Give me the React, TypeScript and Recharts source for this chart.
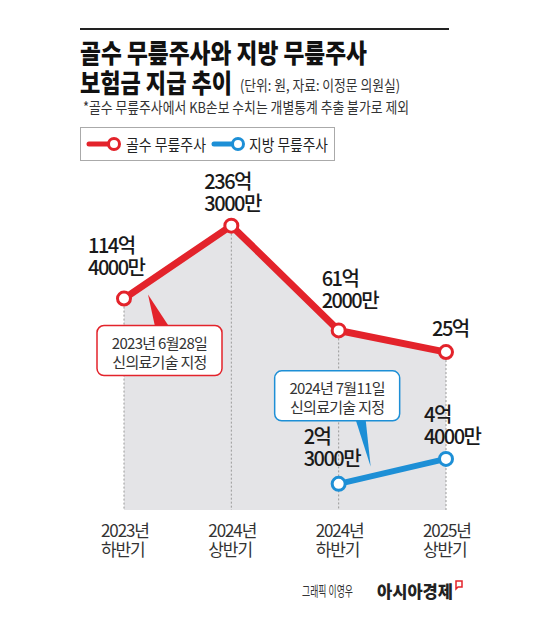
import React from "react";
import {
  ComposedChart, Area, Line, XAxis, YAxis,
  ReferenceLine, ReferenceDot, LabelList,
} from "recharts";

// 기간 (x축)
const PERIODS = ["2023년 하반기", "2024년 상반기", "2024년 하반기", "2025년 상반기"];
// 보험금 (억 원)
const BONE = [114.4, 236.3, 61.2, 25];
const FAT = [null, null, 2.3, 4.4];
const BONE_TEXT = [["114억", "4000만"], ["236억", "3000만"], ["61억", "2000만"], ["25억"]];
const FAT_TEXT = [null, null, ["2억", "3000만"], ["4억", "4000만"]];
const BONE_NOTE = ["2023년 6월28일", "신의료기술 지정"];
const FAT_NOTE = ["2024년 7월11일", "신의료기술 지정"];

const RED = "#e3232b";
const BLUE = "#1d8fd6";
const FONT = '"Noto Sans CJK KR", "Noto Sans", sans-serif';

const BONE_DOMAIN: [number, number] = [-239, 331];
const FAT_DOMAIN: [number, number] = [0.1, 28.8];

// label offsets from the point (dx, dy of first baseline)
const BONE_POS = [[-36, -46], [-27, -37], [-17, -44], [-14, -16]];
const FAT_POS = [null, null, [-35, -40], [-22, -37]];

const data = PERIODS.map((p, i) => ({ period: p, bone: BONE[i], fat: FAT[i] }));

const valueLabel = (values: (number | null)[], texts: any[], pos: any[]) => (p: any) => {
  const i = values.indexOf(p.value);
  const x = p.x ?? p.viewBox?.x;
  const y = p.y ?? p.viewBox?.y;
  if (i < 0 || x == null || !texts[i]) return null;
  const [dx, dy] = pos[i];
  return (
    <text x={x + dx} y={y + dy} fontFamily={FONT} fontSize={20} fontWeight={500}
      letterSpacing={-1.5} fill="#1a1a1a">
      {texts[i].map((t: string, k: number) => (
        <tspan key={k} x={x + dx} dy={k === 0 ? 0 : 22}>{t}</tspan>
      ))}
    </text>
  );
};

const RedNote = (p: any) => {
  const { cx, cy } = p;
  const bx = cx - 27, by = cy + 27;
  return (
    <g>
      <polygon points={`${cx + 24},${cy - 4} ${cx + 31},${by + 1} ${cx + 45},${by + 1}`} fill={RED} />
      <rect x={bx} y={by} width={125} height={50} rx={7} fill="#fff" stroke={RED} strokeWidth={1.5} />
      {BONE_NOTE.map((t, k) => (
        <text key={k} x={bx + 62.5} y={by + 23 + k * 19} textAnchor="middle" fontFamily={FONT}
          fontSize={15} letterSpacing={-0.7} fill="#333">{t}</text>
      ))}
    </g>
  );
};

const BlueNote = (p: any) => {
  const { cx, cy } = p;
  const bx = cx - 64, by = cy - 113;
  return (
    <g>
      <polygon points={`${cx + 17},${by + 49} ${cx + 27},${by + 49} ${cx + 32},${cy - 17}`} fill={BLUE} />
      <rect x={bx} y={by} width={125} height={50} rx={7} fill="#fff" stroke={BLUE} strokeWidth={1.5} />
      {FAT_NOTE.map((t, k) => (
        <text key={k} x={bx + 62.5} y={by + 23 + k * 19} textAnchor="middle" fontFamily={FONT}
          fontSize={15} letterSpacing={-0.7} fill="#333">{t}</text>
      ))}
    </g>
  );
};

const PeriodTick = ({ x, y, payload }: any) => {
  const [a, b] = String(payload.value).split(" ");
  return (
    <g fontFamily={FONT} fontSize={17} letterSpacing={-1.1} fill="#333">
      <text x={x - 23} y={y + 27}>{a}</text>
      <text x={x - 23} y={y + 46}>{b}</text>
    </g>
  );
};

const Overlay = () => (
  <svg width={550} height={621} style={{ position: "absolute", left: 0, top: 0, pointerEvents: "none" }}>
    <line x1={80} x2={449} y1={29} y2={29} stroke="#222" strokeWidth={2} />
    <g fontFamily={FONT}>
      <text x={80} y={63} fontSize={26} fontWeight={900} fill="#111" textLength={287} lengthAdjust="spacingAndGlyphs">
        골수 무릎주사와 지방 무릎주사
      </text>
      <text x={80} y={93} fontSize={26} fontWeight={900} fill="#111" textLength={152} lengthAdjust="spacingAndGlyphs">
        보험금 지급 추이
      </text>
      <text x={240} y={91} fontSize={15} fill="#333" textLength={160} lengthAdjust="spacingAndGlyphs">
        (단위: 원, 자료: 이정문 의원실)
      </text>
      <text x={83} y={113} fontSize={15} fill="#333" textLength={326} lengthAdjust="spacingAndGlyphs">
        *골수 무릎주사에서 KB손보 수치는 개별통계 추출 불가로 제외
      </text>

      <rect x={80.5} y={127.5} width={254} height={33} fill="none" stroke="#aaa" strokeWidth={1} />
      <line x1={89} x2={112} y1={144} y2={144} stroke={RED} strokeWidth={5} strokeLinecap="round" />
      <circle cx={114} cy={144} r={5.5} fill="#fff" stroke={RED} strokeWidth={3} />
      <text x={126} y={151} fontSize={16} fill="#222" textLength={80} lengthAdjust="spacingAndGlyphs">골수 무릎주사</text>
      <line x1={214} x2={235} y1={144} y2={144} stroke={BLUE} strokeWidth={5} strokeLinecap="round" />
      <circle cx={238} cy={144} r={5.5} fill="#fff" stroke={BLUE} strokeWidth={3} />
      <text x={249} y={151} fontSize={16} fill="#222" textLength={79} lengthAdjust="spacingAndGlyphs">지방 무릎주사</text>

      <text x={302} y={596} fontSize={14} fill="#333" textLength={51} lengthAdjust="spacingAndGlyphs">그래픽 이영우</text>
      <text x={377} y={598} fontSize={17} fontWeight={900} fill="#222" textLength={76} lengthAdjust="spacingAndGlyphs">아시아경제</text>
      <path d="M456,581 h6 v6 h-4 l-2,2 z" fill="none" stroke={RED} strokeWidth={1.5} />
    </g>
  </svg>
);

export default function App() {
  return (
    <div style={{ position: "absolute", left: 0, top: 0, width: 550, height: 621, background: "#fff" }}>
      <ComposedChart width={550} height={621} data={data}
        margin={{ top: 169, right: 104, bottom: 51, left: 124 }}>
        <XAxis dataKey="period" height={60} axisLine={false} tickLine={false}
          tickSize={0} tickMargin={0} tick={<PeriodTick />} interval={0} />
        <YAxis yAxisId="bone" hide domain={BONE_DOMAIN} allowDataOverflow />
        <YAxis yAxisId="fat" hide orientation="right" domain={FAT_DOMAIN} allowDataOverflow />
        <Area yAxisId="bone" dataKey="bone" baseValue="dataMin" fill="#e4e4e7" fillOpacity={1}
          stroke="none" isAnimationActive={false} />
        {PERIODS.map((p, i) => (
          <ReferenceLine key={p} yAxisId="bone"
            segment={[{ x: p, y: BONE[i] }, { x: p, y: BONE_DOMAIN[0] }]}
            stroke="#999" strokeDasharray="2 2" strokeWidth={1} />
        ))}
        <Line yAxisId="bone" dataKey="bone" stroke={RED} strokeWidth={7}
          dot={{ r: 6.5, fill: "#fff", stroke: RED, strokeWidth: 3 }} activeDot={false}
          isAnimationActive={false}>
          <LabelList dataKey="bone" content={valueLabel(BONE, BONE_TEXT, BONE_POS)} />
        </Line>
        <Line yAxisId="fat" dataKey="fat" stroke={BLUE} strokeWidth={6}
          dot={{ r: 6.5, fill: "#fff", stroke: BLUE, strokeWidth: 3 }} activeDot={false}
          isAnimationActive={false}>
          <LabelList dataKey="fat" content={valueLabel(FAT, FAT_TEXT, FAT_POS)} />
        </Line>
        <ReferenceDot yAxisId="bone" x={PERIODS[0]} y={BONE[0]} shape={<RedNote />} />
        <ReferenceDot yAxisId="fat" x={PERIODS[2]} y={FAT[2] as number} shape={<BlueNote />} />
      </ComposedChart>
      <Overlay />
    </div>
  );
}
